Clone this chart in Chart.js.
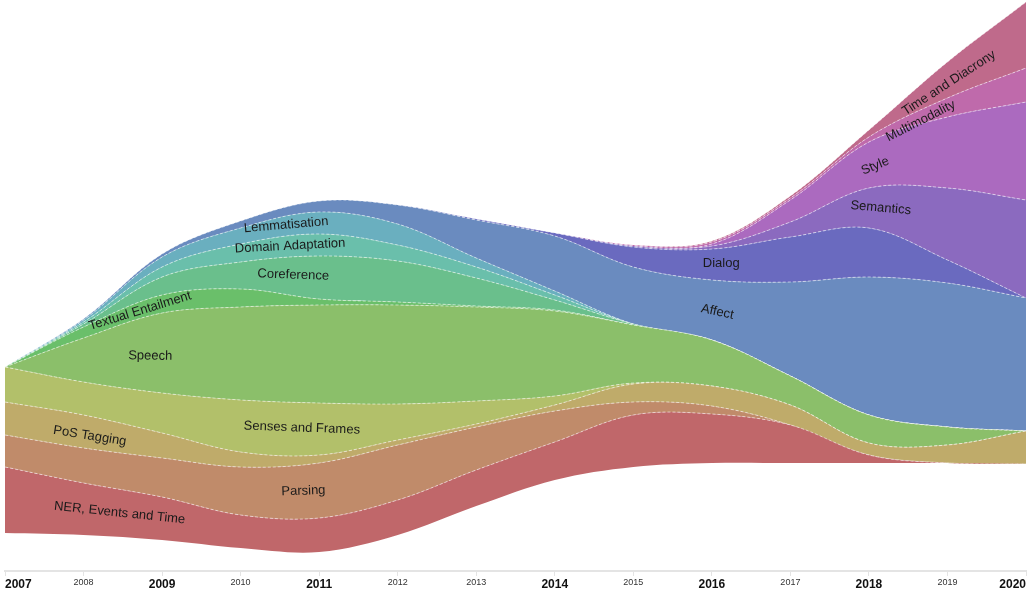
<!DOCTYPE html>
<html>
<head>
<meta charset="utf-8">
<script src="https://cdn.jsdelivr.net/npm/chart.js@4.4.1/dist/chart.umd.min.js"></script>
<style>
  html, body { margin: 0; padding: 0; background: #fff; }
  #wrap { width: 1031px; height: 589px; }
</style>
</head>
<body>
<div id="wrap"><canvas id="stream"></canvas></div>
<script>
// years on the axis, the bold ones are the "major" years
const years = [2007, 2008, 2009, 2010, 2011, 2012, 2013, 2014, 2015, 2016, 2017, 2018, 2019, 2020];
const majorYears = [2007, 2009, 2011, 2014, 2016, 2018, 2020];

// invisible offset under the stream (wiggle baseline)
const baseline = [38, 36, 31, 23, 19, 36, 65, 91, 104, 108, 108, 108, 108, 107];

// topic layers, bottom to top
const ner           = [66, 52, 43, 33, 34, 35, 36, 38, 52, 49, 38, 8, 0, 0];
const parsing       = [32, 35, 39, 48, 55, 55, 43, 31, 13, 8, 0, 0, 0, 0];
const posTagging    = [33, 33, 25, 15, 8, 5, 3, 6, 18, 20, 20, 12, 18, 33];
const senses        = [35, 33, 40, 52, 52, 36, 23, 9, 1, 0, 0, 0, 0, 0];
const speech        = [0, 44, 80, 93, 98, 99, 94, 85, 58, 46, 29, 28, 18, 0];
const entailment    = [0, 11, 18, 18, 6, 3, 1, 1, 0, 0, 0, 0, 0, 0];
const coreference   = [0, 3, 18, 27, 43, 41, 28, 10, 1, 0, 0, 0, 0, 0];
const domainAdapt   = [0, 2, 10, 18, 22, 16, 11, 5, 0, 0, 0, 0, 0, 0];
const lemmatisation = [0, 2, 10, 16, 22, 21, 9, 4, 0, 0, 0, 0, 0, 0];
const affect        = [0, 1, 3, 7, 11, 19, 38, 55, 57, 60, 94, 138, 144, 133];
const dialog        = [0, 0, 0, 0, 0, 0, 1, 3, 20, 31, 45, 49, 23, 0];
const semantics     = [0, 0, 0, 0, 0, 0, 0, 0, 1, 3, 15, 40, 72, 98];
const style         = [0, 0, 0, 0, 0, 0, 0, 0, 0, 2, 22, 46, 71, 98];
const multimodality = [0, 0, 0, 0, 0, 0, 0, 0, 1, 2, 2, 5, 19, 34];
const diacrony      = [0, 0, 0, 0, 0, 0, 0, 0, 0, 1, 2, 7, 36, 66];

const layers = [
  { name: 'NER, Events and Time', values: ner,           color: '#c0676a', at: [2008.46, 58],  angle: 6 },
  { name: 'Parsing',              values: parsing,       color: '#c08b6a', at: [2010.80, 80],  angle: -2 },
  { name: 'PoS Tagging',          values: posTagging,    color: '#bfab6a', at: [2008.08, 135], angle: 9 },
  { name: 'Senses and Frames',    values: senses,        color: '#b2c06a', at: [2010.78, 143], angle: 2 },
  { name: 'Speech',               values: speech,        color: '#8bbf6a', at: [2008.85, 215], angle: 1 },
  { name: 'Textual Entailment',   values: entailment,    color: '#6abf6a', at: [2008.72, 260], angle: -17 },
  { name: 'Coreference',          values: coreference,   color: '#6abf8c', at: [2010.67, 296], angle: 2 },
  { name: 'Domain Adaptation',    values: domainAdapt,   color: '#6abfab', at: [2010.63, 325], angle: -3 },
  { name: 'Lemmatisation',        values: lemmatisation, color: '#6aafbf', at: [2010.58, 346], angle: -5 },
  { name: 'Affect',               values: affect,        color: '#6a8bbf', at: [2016.07, 259], angle: 12 },
  { name: 'Dialog',               values: dialog,        color: '#6a6abf', at: [2016.12, 308], angle: 0 },
  { name: 'Semantics',            values: semantics,     color: '#8b6abf', at: [2018.15, 363], angle: 5 },
  { name: 'Style',                values: style,         color: '#ab6abf', at: [2018.08, 405], angle: -22 },
  { name: 'Multimodality',        values: multimodality, color: '#bf6aab', at: [2018.66, 450], angle: -27 },
  { name: 'Time and Diacrony',    values: diacrony,      color: '#bf6a8b', at: [2019.02, 488], angle: -33 }
];

const datasets = [{
  label: 'baseline',
  data: years.map((y, i) => ({ x: y, y: baseline[i] })),
  borderWidth: 0,
  borderColor: 'rgba(0,0,0,0)',
  backgroundColor: 'rgba(0,0,0,0)',
  fill: false,
  pointRadius: 0
}];
layers.forEach(l => {
  datasets.push({
    label: l.name,
    data: years.map((y, i) => ({ x: y, y: l.values[i] })),
    backgroundColor: l.color,
    borderColor: 'rgba(255,255,255,0.55)',
    borderWidth: 1,
    borderDash: [3, 2],
    fill: '-1',
    pointRadius: 0
  });
});

const isMajor = c => !!(c && c.tick && majorYears.includes(c.tick.value));

// writes the topic names inside the stream
const streamLabels = {
  id: 'streamLabels',
  afterDatasetsDraw(chart) {
    const ctx = chart.ctx;
    const xs = chart.scales.x, ys = chart.scales.y;
    ctx.save();
    ctx.font = '13px "Liberation Sans", Arial, sans-serif';
    ctx.fillStyle = '#1a1a1a';
    ctx.textAlign = 'center';
    ctx.textBaseline = 'middle';
    layers.forEach(l => {
      const px = xs.getPixelForValue(l.at[0]);
      const py = ys.getPixelForValue(l.at[1]);
      ctx.save();
      ctx.translate(px, py);
      ctx.rotate(l.angle * Math.PI / 180);
      ctx.fillText(l.name, 0, 0);
      ctx.restore();
    });
    ctx.restore();
  }
};

const ctx = document.getElementById('stream').getContext('2d');
const chart = new Chart(ctx, {
  type: 'line',
  data: { datasets: datasets },
  options: {
    responsive: true,
    maintainAspectRatio: false,
    animation: false,
    layout: { padding: { left: 5, right: 5, top: 0, bottom: 0 } },
    elements: { line: { tension: 0.35 } },
    plugins: { legend: { display: false }, tooltip: { enabled: false } },
    scales: {
      x: {
        type: 'linear',
        min: 2007,
        max: 2020,
        afterFit: s => { s.height = 18; },
        border: { display: true, color: '#e4e4e4', width: 2 },
        grid: { drawOnChartArea: false, drawTicks: true, tickLength: 5, color: '#e4e4e4' },
        ticks: {
          stepSize: 1,
          autoSkip: false,
          maxRotation: 0,
          padding: 1,
          align: 'inner',
          callback: v => String(v),
          color: c => isMajor(c) ? '#111' : '#333',
          font: c => isMajor(c)
            ? { family: '"Liberation Sans", Arial, sans-serif', size: 12, weight: 'bold' }
            : { family: '"Liberation Sans", Arial, sans-serif', size: 9 }
        }
      },
      y: {
        display: false,
        stacked: true,
        min: 0,
        max: 571
      }
    }
  },
  plugins: [streamLabels]
});
</script>
</body>
</html>
